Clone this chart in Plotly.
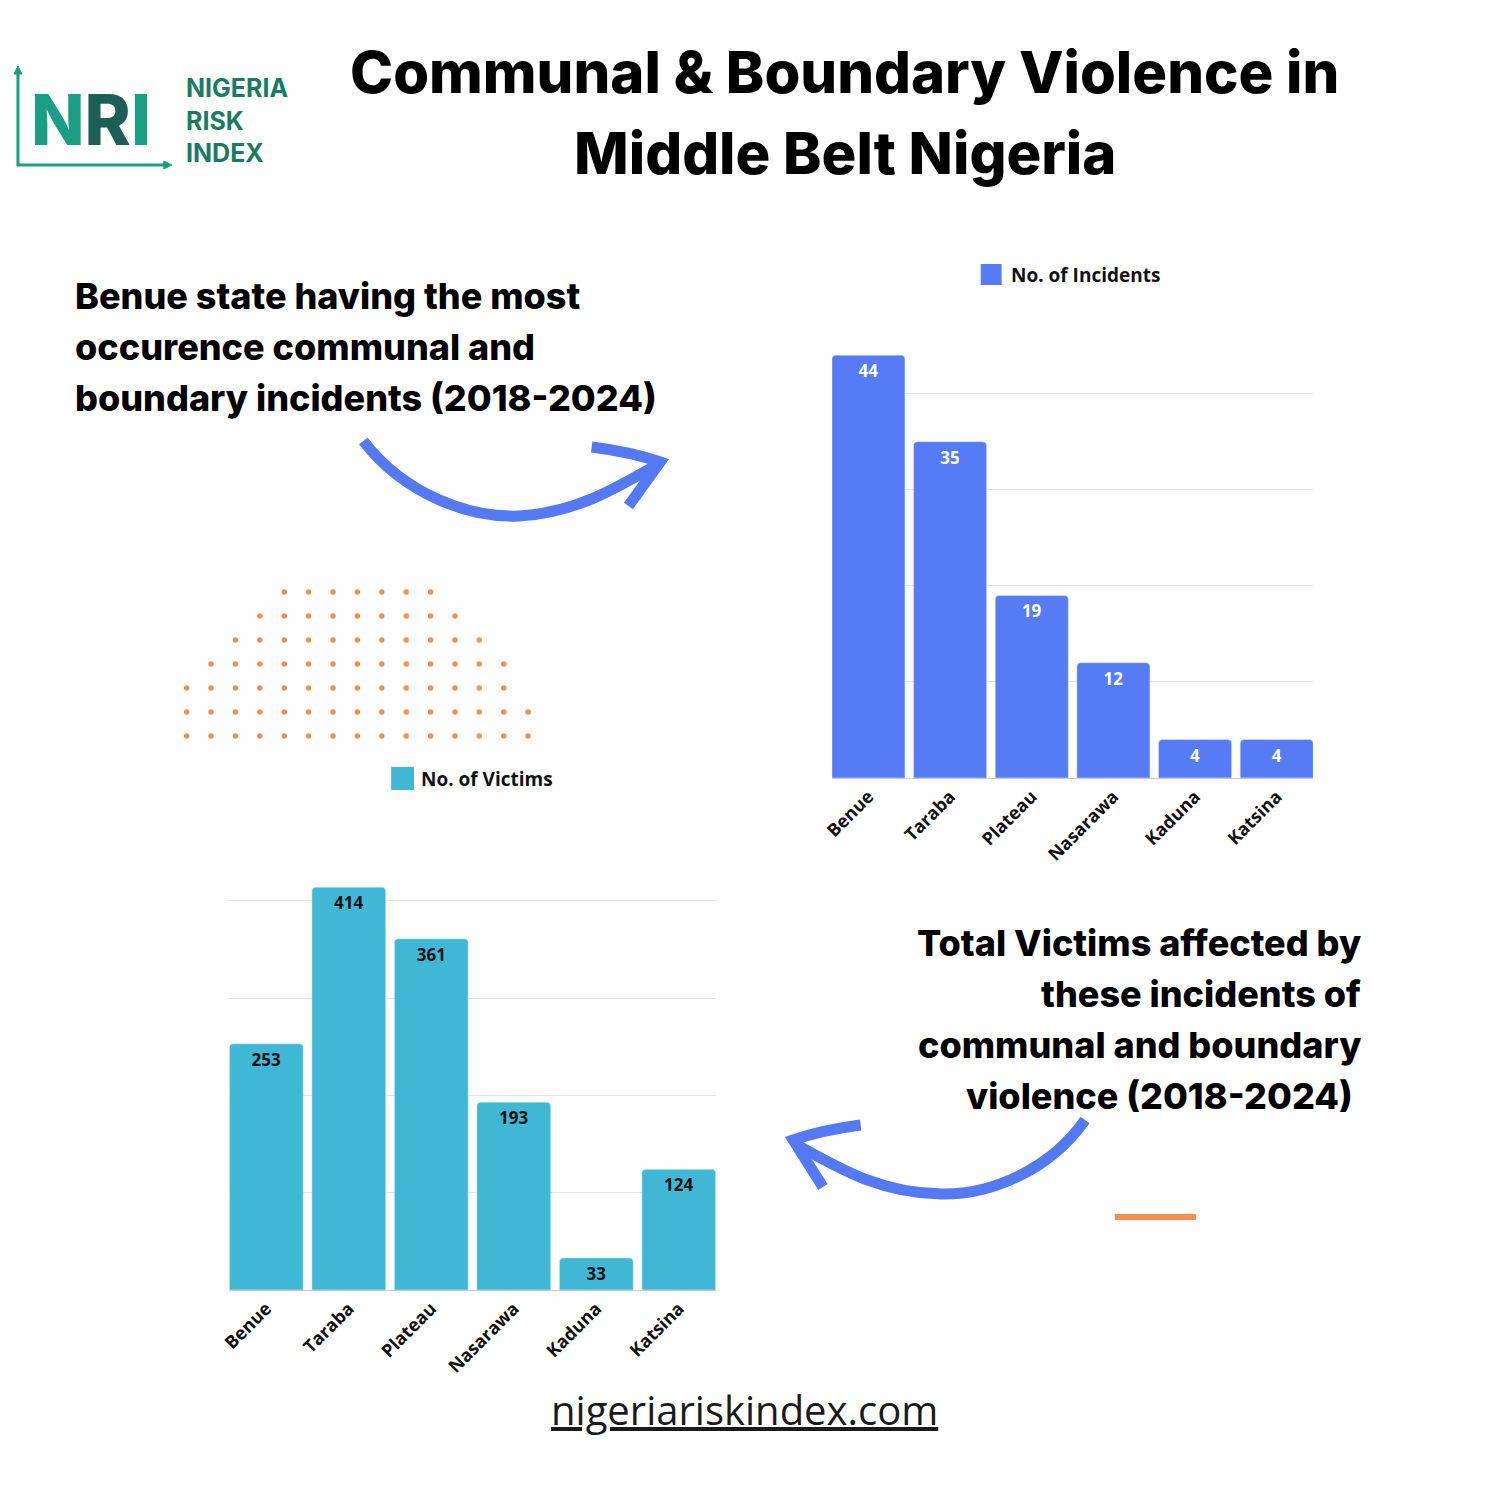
import plotly.graph_objects as go

# ---------------- data ----------------
states = ["Benue", "Taraba", "Plateau", "Nasarawa", "Kaduna", "Katsina"]
incidents = [44, 35, 19, 12, 4, 4]
victims = [253, 414, 361, 193, 33, 124]

incident_label = "No. of Incidents"
victim_label = "No. of Victims"

title_lines = ["Communal & Boundary Violence in", "Middle Belt Nigeria"]
left_lines = ["Benue state having the most", "occurence communal and", "boundary incidents (2018-2024)"]
right_lines = ["Total Victims affected by", "these incidents of", "communal and boundary", "violence (2018-2024) "]
logo_lines = ["NIGERIA", "RISK", "INDEX"]
logo_letters = ["N", "R", "I"]
footer = "nigeriariskindex.com"

# decorative dot pattern: (first column, last column) per row
dot_rows = [(4, 10), (3, 11), (2, 12), (1, 13), (0, 13), (0, 14), (0, 14)]

# ---------------- styling ----------------
W = 1485
BLUE = "#557BF5"
CYAN = "#41B7D6"
ARROW = "#5479F3"
ORANGE = "#F98E52"
TEAL = "#1A9E84"
DKTEAL = "#1B7A63"
RDARK = "#1E5F55"
HEAVY = "Inter"
G = 0.105


def fx(x):
    return x / W


def fy(y):
    return 1 - y / W


fig = go.Figure()

fig.add_trace(go.Bar(
    x=states, y=incidents, xaxis="x", yaxis="y", showlegend=False,
    marker=dict(color=BLUE, cornerradius=4),
    text=incidents, textposition="inside", insidetextanchor="end", textangle=0,
    textfont=dict(color="white", size=17, family="Open Sans", weight="bold"),
    hoverinfo="skip",
))
fig.add_trace(go.Bar(
    x=states, y=victims, xaxis="x2", yaxis="y2", showlegend=False,
    marker=dict(color=CYAN, cornerradius=4),
    text=victims, textposition="inside", insidetextanchor="end", textangle=0,
    textfont=dict(color="#111111", size=17, family="Open Sans", weight="bold"),
    hoverinfo="skip",
))

# decorative dots on full-page pixel axis
dx, dy0, x0, y0 = 24.57, 24.0, 177.0, 592.0
dxs, dys = [], []
for r, (c0, c1) in enumerate(dot_rows):
    for c in range(c0, c1 + 1):
        dxs.append(x0 + c * dx)
        dys.append(y0 + r * dy0)
fig.add_trace(go.Scatter(x=dxs, y=dys, xaxis="x3", yaxis="y3", mode="markers",
                         marker=dict(color=ORANGE, size=5.5), showlegend=False,
                         hoverinfo="skip"))

tickfont = dict(family="Open Sans", size=18, color="#111111", weight="bold")
axis_common = dict(type="category", tickangle=-45, showline=True, linecolor="#C9C9C9",
                   linewidth=1, ticks="", showgrid=False, tickfont=tickfont,
                   range=[-0.5 + G / 2, 5.5 - G / 2], fixedrange=True)
yaxis_common = dict(showticklabels=False, gridcolor="#E4E4E4", gridwidth=1,
                    zeroline=False, ticks="", fixedrange=True)

fig.update_layout(
    width=W, height=W,
    margin=dict(l=0, r=0, t=0, b=0),
    paper_bgcolor="white", plot_bgcolor="rgba(0,0,0,0)",
    bargap=G,
    xaxis=dict(domain=[fx(827), fx(1312)], anchor="y", **axis_common),
    yaxis=dict(domain=[fy(778), fy(297)], anchor="x", range=[0, 50.05], dtick=10, **yaxis_common),
    xaxis2=dict(domain=[fx(220), fx(710)], anchor="y2", **axis_common),
    yaxis2=dict(domain=[fy(1290), fy(803)], anchor="x2", range=[0, 500.5], dtick=100, **yaxis_common),
    xaxis3=dict(domain=[0, 1], range=[0, W], visible=False, fixedrange=True, anchor="y3"),
    yaxis3=dict(domain=[0, 1], range=[W, 0], visible=False, fixedrange=True, anchor="x3"),
)

ann = []
shapes = []

# title
for i, t in enumerate(title_lines):
    ann.append(dict(x=840, y=72 + i * 81, xref="x3", yref="y3", text=t, showarrow=False,
                    xanchor="center", yanchor="middle",
                    font=dict(family=HEAVY, size=58, color="black", weight=800)))

# left commentary
for i, t in enumerate(left_lines):
    ann.append(dict(x=62, y=296 + i * 51, xref="x3", yref="y3", text=t, showarrow=False,
                    xanchor="left", yanchor="middle",
                    font=dict(family=HEAVY, size=36, color="black", weight=800)))

# right commentary
for i, t in enumerate(right_lines):
    ann.append(dict(x=1362, y=943 + i * 51, xref="x3", yref="y3", text=t, showarrow=False,
                    xanchor="right", yanchor="middle",
                    font=dict(family=HEAVY, size=36, color="black", weight=800)))

# logo text (single block, three lines)
ann.append(dict(x=174, y=120, xref="x3", yref="y3", text="<br>".join(logo_lines),
                showarrow=False, xanchor="left", yanchor="middle", align="left",
                font=dict(family=HEAVY, size=25, color=DKTEAL, weight=700)))
letter_col = [TEAL, RDARK, TEAL]
nri = "".join(f"<span style='color:{c}'>{t}</span>" for t, c in zip(logo_letters, letter_col))
ann.append(dict(x=18, y=119, xref="x3", yref="y3", text=nri, showarrow=False,
                xanchor="left", yanchor="middle",
                font=dict(family=HEAVY, size=70, color=TEAL, weight=800)))

# footer
ann.append(dict(x=739, y=1409, xref="x3", yref="y3", text=f"<u>{footer}</u>", showarrow=False,
                xanchor="center", yanchor="middle",
                font=dict(family="Open Sans", size=40, color="#1a1a1a", weight=400)))

# custom legends
ann.append(dict(x=1005, y=275, xref="x3", yref="y3", text=incident_label, showarrow=False,
                xanchor="left", yanchor="middle",
                font=dict(family="Open Sans", size=19, color="#111", weight="bold")))
shapes.append(dict(type="rect", xref="x3", yref="y3", x0=977, x1=998, y0=264, y1=285,
                   fillcolor=BLUE, line=dict(width=0)))
ann.append(dict(x=411, y=779, xref="x3", yref="y3", text=victim_label, showarrow=False,
                xanchor="left", yanchor="middle",
                font=dict(family="Open Sans", size=19, color="#111", weight="bold")))
shapes.append(dict(type="rect", xref="x3", yref="y3", x0=383, x1=406, y0=767, y1=790,
                   fillcolor=CYAN, line=dict(width=0)))

# arrows
shapes.append(dict(type="path", xref="x3", yref="y3",
                   path="M 355,441 C 397,495 462,518 512,516 C 567,513 607,490 652,464",
                   line=dict(color=ARROW, width=11)))
shapes.append(dict(type="path", xref="x3", yref="y3",
                   path="M 585,447 Q 625,452 654,462 L 622,506",
                   line=dict(color=ARROW, width=11)))
shapes.append(dict(type="path", xref="x3", yref="y3",
                   path="M 1082,1120 C 1047,1170 987,1195 937,1194 C 877,1193 837,1170 792,1145",
                   line=dict(color=ARROW, width=11)))
shapes.append(dict(type="path", xref="x3", yref="y3",
                   path="M 856,1125 Q 817,1130 788,1140 L 818,1187",
                   line=dict(color=ARROW, width=11)))

# orange dash
shapes.append(dict(type="line", xref="x3", yref="y3", x0=1112, x1=1194, y0=1217, y1=1217,
                   line=dict(color=ORANGE, width=6)))

# logo axes
shapes.append(dict(type="line", xref="x3", yref="y3", x0=7, x1=7, y0=166, y1=72,
                   line=dict(color=TEAL, width=3)))
shapes.append(dict(type="line", xref="x3", yref="y3", x0=6, x1=156, y0=165, y1=165,
                   line=dict(color=TEAL, width=3)))
shapes.append(dict(type="path", xref="x3", yref="y3", path="M 3,74 L 7,66 L 11,74 Z",
                   fillcolor=TEAL, line=dict(color=TEAL, width=1)))
shapes.append(dict(type="path", xref="x3", yref="y3", path="M 154,161 L 162,165 L 154,169 Z",
                   fillcolor=TEAL, line=dict(color=TEAL, width=1)))

fig.update_layout(annotations=ann, shapes=shapes)

fig.write_html("out.html", config=dict(displayModeBar=False),
               post_script="document.body.style.margin='0';document.body.style.overflow='hidden';")
